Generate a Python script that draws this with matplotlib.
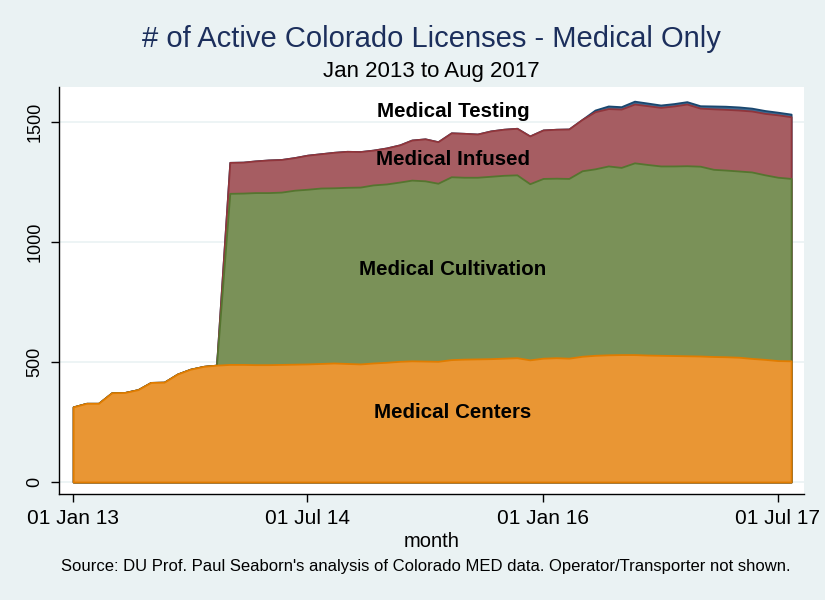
import matplotlib
matplotlib.use("Agg")
import matplotlib.pyplot as plt
import matplotlib.dates as mdates
import numpy as np
import pandas as pd

plt.rcParams['font.family'] = ['Liberation Sans', 'DejaVu Sans']

# monthly counts, Jan 2013 .. Aug 2017
months = pd.date_range('2013-01-01', '2017-08-01', freq='MS')

centers = [313, 328, 328, 372, 373, 385, 415, 416, 450, 470, 482, 487,
           490, 490, 489, 489, 490, 491, 492, 494, 496, 494, 492, 496,
           499, 503, 505, 504, 503, 510, 512, 513, 514, 516, 518, 509,
           516, 518, 516, 524, 528, 530, 531, 531, 529, 528, 527, 526,
           525, 523, 522, 520, 515, 511, 506, 505]

cultivation = [0] * 12 + [
    713, 714, 717, 717, 718, 725, 728, 731, 730, 734, 737, 742,
    743, 747, 753, 751, 742, 762, 758, 757, 760, 762, 762, 734,
    749, 748, 749, 773, 777, 787, 780, 799, 794, 789, 790, 792,
    791, 780, 778, 776, 777, 769, 764, 760]

infused = [0] * 12 + [
    129, 129, 132, 136, 136, 136, 142, 143, 148, 150, 148, 145,
    150, 155, 167, 175, 173, 183, 183, 180, 189, 192, 194, 199,
    202, 204, 206, 214, 238, 239, 243, 245, 245, 244, 250, 257,
    242, 252, 253, 254, 254, 256, 260, 257]

testing = [0] * 40 + [7, 11, 10, 12, 11, 10, 10, 10,
                      10, 12, 13, 13, 12, 12, 11, 11]

series_names = ['Medical Centers', 'Medical Cultivation', 'Medical Infused', 'Medical Testing']

x_ticks = ['2013-01-01', '2014-07-01', '2016-01-01', '2017-07-01']
x_tick_labels = ['01 Jan 13', '01 Jul 14', '01 Jan 16', '01 Jul 17']
y_ticks = [0, 500, 1000, 1500]

bg = '#EAF2F3'
fills = ['#E99634', '#7A9158', '#A65D62', '#3F6A91']
edges = ['#E07C00', '#55752F', '#90353B', '#1A476F']

stack = np.cumsum(np.array([centers, cultivation, infused, testing], dtype=float), axis=0)
x = mdates.date2num(months)

fig = plt.figure(figsize=(8.25, 6), dpi=100, facecolor=bg)
ax = fig.add_axes([59 / 825, 1 - 494 / 600, (804 - 59) / 825, (494 - 87) / 600])
ax.set_facecolor('white')

# biggest total first so smaller layers sit on top (like stata overlays)
for i in range(3, -1, -1):
    ax.fill_between(x, 0, stack[i], facecolor=fills[i], edgecolor=edges[i],
                    linewidth=1.3, zorder=2 + (3 - i))

for yv in y_ticks:
    ax.axhline(yv, color=bg, linewidth=1.2, zorder=1)

ax.set_xlim(mdates.date2num(pd.Timestamp('2012-11-29')),
            mdates.date2num(pd.Timestamp('2017-08-31')))
ax.set_ylim(-50, 1646)

ax.set_xticks(mdates.date2num(pd.to_datetime(x_ticks)))
ax.set_xticklabels(x_tick_labels, fontsize=15)
ax.set_yticks(y_ticks)
ax.set_yticklabels([str(v) for v in y_ticks], fontsize=13, rotation=90, va='center')
ax.tick_params(axis='x', length=6, width=1, pad=5)
ax.tick_params(axis='y', length=6, width=1, pad=5)

for s in ['top', 'right']:
    ax.spines[s].set_visible(False)
for s in ['left', 'bottom']:
    ax.spines[s].set_linewidth(1)
    ax.spines[s].set_color('black')

lx = mdates.date2num(pd.Timestamp('2015-06-05'))
label_y = [267, 862, 1321, 1521]   # baselines
for name, yv in zip(series_names, label_y):
    ax.text(lx, yv, name, ha='center', va='baseline', fontsize=14.8,
            fontweight='bold', color='black', zorder=10)

ax.set_xlabel('month', fontsize=14.5, labelpad=3)

fig.text(431.5 / 825, 1 - 39 / 600, '# of Active Colorado Licenses - Medical Only',
         ha='center', va='center', fontsize=21, color='#1C2F5C')
fig.text(431.5 / 825, 1 - 71.5 / 600, 'Jan 2013 to Aug 2017',
         ha='center', va='center', fontsize=16, color='black')
fig.text(426 / 825, 1 - 566 / 600,
         "Source: DU Prof. Paul Seaborn's analysis of Colorado MED data. Operator/Transporter not shown.",
         ha='center', va='center', fontsize=12, color='black')

fig.savefig('out.png', dpi=100, facecolor=fig.get_facecolor())
